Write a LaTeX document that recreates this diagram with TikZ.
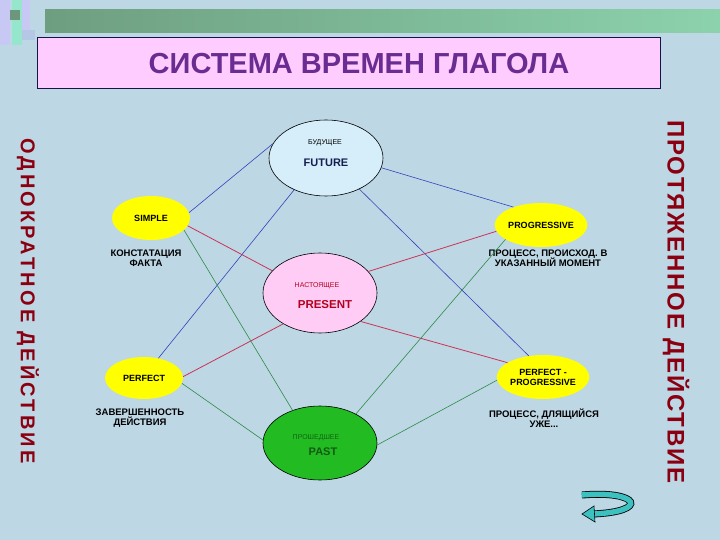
\documentclass[tikz,border=0pt]{standalone}
\usepackage{fontspec}
\setmainfont{Liberation Sans}
\newfontfamily\sidefont[LetterSpace=16]{Liberation Sans}
\newfontfamily\sidefontb[LetterSpace=8]{Liberation Sans}
\usetikzlibrary{shapes.geometric}
\definecolor{bg}{HTML}{BDD7E5}
\definecolor{ttl}{HTML}{6A2C91}
\definecolor{sider}{HTML}{8B0010}
\definecolor{ylw}{HTML}{FFFF00}
\definecolor{lnblue}{HTML}{3344BB}
\definecolor{lnred}{HTML}{CC3355}
\definecolor{lngreen}{HTML}{2E8B46}
\definecolor{teal1}{HTML}{3CC0C0}
\definecolor{barl}{HTML}{6E9E80}
\definecolor{barr}{HTML}{8CD2AC}
\definecolor{lav}{HTML}{C8C8F5}
\definecolor{mint}{HTML}{96E6CD}
\definecolor{dgrn}{HTML}{6E967D}
\definecolor{lblu}{HTML}{B4C8E6}
\definecolor{tbord}{HTML}{141446}
\definecolor{tfill}{HTML}{FFCCFF}
\definecolor{futfill}{HTML}{D6EEFA}
\definecolor{futtxt}{HTML}{141E50}
\definecolor{prefill}{HTML}{FFCCF5}
\definecolor{pretxt}{HTML}{B4001E}
\definecolor{pasfill}{HTML}{22BB22}
\definecolor{pasa}{HTML}{146414}
\definecolor{pasb}{HTML}{145A14}
\tikzset{
  yel/.style={ellipse,fill=ylw,inner sep=0pt,font=\bfseries\fontsize{9}{10}\selectfont},
  big/.style={ellipse,draw=black,line width=0.6pt,inner sep=0pt,align=center},
  lbl/.style={align=center,font=\bfseries\fontsize{9.5}{10.5}\selectfont},
  bl/.style={lnblue,line width=0.6pt},
  rl/.style={lnred,line width=0.8pt},
  gl/.style={lngreen,line width=0.6pt},
}
\begin{document}
\begin{tikzpicture}[x=1pt,y=-1pt]
\useasboundingbox (0,0) rectangle (720,540);
\fill[bg] (0,0) rectangle (720,540);
% decoration
\fill[left color=barl,right color=barr] (45,10) rectangle (720,33);
\fill[lav] (0,0) rectangle (10,45);
\fill[mint] (12,0) rectangle (22,45);
\fill[lav] (22,0) rectangle (30,30);
\fill[dgrn] (10,10) rectangle (20,20);
\fill[lblu] (22,30) rectangle (35,40);
% title
\node[draw=tbord,line width=0.8pt,fill=tfill,minimum width=623pt,minimum height=51pt,anchor=north west,inner sep=0pt] (tbox) at (37,37) {};
\node[font=\bfseries\fontsize{29}{30}\selectfont,text=ttl] (title) at (359,64) {СИСТЕМА ВРЕМЕН ГЛАГОЛА};
% side texts
\node[rotate=-90,text=sider,font=\sidefont\bfseries\fontsize{20}{20}\selectfont] (lside) at (28,301) {ОДНОКРАТНОЕ ДЕЙСТВИЕ};
\node[rotate=-90,text=sider,font=\sidefontb\bfseries\fontsize{24}{24}\selectfont] (rside) at (676,302) {ПРОТЯЖЕННОЕ ДЕЙСТВИЕ};
% ellipses
\node[big,fill=futfill,minimum width=114pt,minimum height=76pt] (fut) at (326,158) {};
\node[font=\fontsize{7}{8}\selectfont] (futa) at (325,143) {БУДУЩЕЕ};
\node[font=\bfseries\fontsize{11}{12}\selectfont,text=futtxt] (futb) at (326,163) {FUTURE};
\node[big,fill=prefill,minimum width=114pt,minimum height=80pt] (pre) at (320,293) {};
\node[font=\fontsize{7}{8}\selectfont,text=pretxt] (prea) at (317,286) {НАСТОЯЩЕЕ};
\node[font=\bfseries\fontsize{11.5}{12}\selectfont,text=pretxt] (preb) at (325,305) {PRESENT};
\node[big,fill=pasfill,minimum width=114pt,minimum height=74pt] (pas) at (320,443) {};
\node[font=\fontsize{7}{8}\selectfont,text=pasa] (pasa) at (316,438) {ПРОШЕДШЕЕ};
\node[font=\bfseries\fontsize{11}{12}\selectfont,text=pasb] (pasb) at (323,452) {PAST};
\node[yel,minimum width=78pt,minimum height=44pt] (sim) at (151,218) {SIMPLE};
\node[yel,minimum width=86pt,minimum height=44pt] (pro) at (541,225) {PROGRESSIVE};
\node[yel,minimum width=78pt,minimum height=42pt] (per) at (144,378) {PERFECT};
\node[yel,minimum width=86pt,minimum height=44pt,align=center,font=\bfseries\fontsize{9}{10}\selectfont] (pp) at (543,377) {PERFECT -\\PROGRESSIVE};
% labels
\node[lbl] (l1) at (146,258) {КОНСТАТАЦИЯ\\ФАКТА};
\node[lbl] (l2) at (548,258) {ПРОЦЕСС, ПРОИСХОД. В\\УКАЗАННЫЙ МОМЕНТ};
\node[lbl] (l3) at (140,418) {ЗАВЕРШЕННОСТЬ\\ДЕЙСТВИЯ};
\node[lbl] (l4) at (544,418) {ПРОЦЕСС, ДЛЯЩИЙСЯ\\УЖЕ...};
% connectors
\draw[bl] (fut.165) -- (sim.8);
\draw[bl] (fut.350) -- (pro.147);
\draw[bl] (fut.225) -- (per.54);
\draw[bl] (fut.317) -- (pp.124);
\draw[rl] (sim.348) -- (pre.155);
\draw[rl] (pre.24) -- (pro.188);
\draw[rl] (pre.220) -- (per.2);
\draw[rl] (pre.325) -- (pp.158);
\draw[gl] (sim.340) -- (pas.130);
\draw[gl] (pro.202) -- (pas.39);
\draw[gl] (per.352) -- (pas.177);
\draw[gl] (pp.184) -- (pas.358);
% return arrow
\coordinate (a0) at (582,495);
\coordinate (a1) at (592,514);
\draw[black,line width=7pt] (a0) .. controls (640,490) and (650,512) .. (a1);
\draw[teal1,line width=5.4pt] (581.5,495) .. controls (640,490) and (650,512) .. (a1);
\fill[teal1,draw=black,line width=0.6pt] (594,506) -- (582,514) -- (595,522) -- cycle;
\end{tikzpicture}
\end{document}
